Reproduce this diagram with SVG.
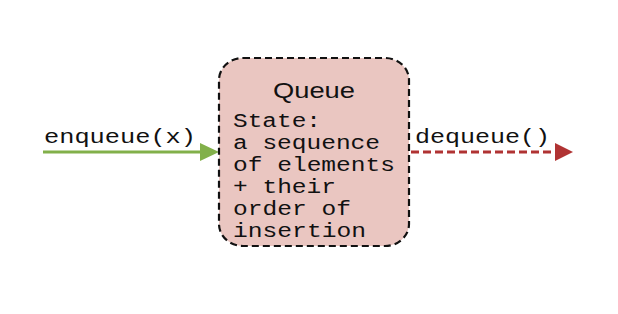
<svg xmlns="http://www.w3.org/2000/svg" width="618" height="314" viewBox="0 0 618 314">
  <style>
    .mono { font-family: "Liberation Mono", "Courier New", monospace; font-size: 20px; fill: #111; }
    .title { font-family: "Liberation Sans", Arial, sans-serif; font-size: 22px; fill: #111; }
    .box { fill: #eac6c1; stroke: #111; stroke-width: 2.2; stroke-dasharray: 7 4; }
  </style>
  <rect width="618" height="314" fill="#ffffff"/>
  <g id="connectors">
    <g id="enqueue">
      <line x1="43" y1="152" x2="202" y2="152" stroke="#82b04a" stroke-width="3.2"/>
      <polygon points="200,143 219,152 200,161" fill="#82b04a"/>
      <text class="mono" x="44" y="143" textLength="152" lengthAdjust="spacingAndGlyphs">enqueue(x)</text>
    </g>
    <g id="dequeue">
      <line x1="411" y1="152" x2="556" y2="152" stroke="#b03333" stroke-width="3.2" stroke-dasharray="8 4"/>
      <polygon points="555,143 573,152 555,161" fill="#b03333"/>
      <text class="mono" x="415" y="143" textLength="135" lengthAdjust="spacingAndGlyphs">dequeue()</text>
    </g>
  </g>
  <g id="queue">
    <rect class="box" x="219" y="58" width="190" height="188" rx="24" ry="22"/>
    <text class="title" x="273" y="98" textLength="82" lengthAdjust="spacingAndGlyphs">Queue</text>
    <text class="mono" x="233" y="127" textLength="88" lengthAdjust="spacingAndGlyphs">State:</text>
    <text class="mono" x="233" y="149" textLength="147" lengthAdjust="spacingAndGlyphs">a sequence</text>
    <text class="mono" x="233" y="171" textLength="162" lengthAdjust="spacingAndGlyphs">of elements</text>
    <text class="mono" x="233" y="193" textLength="103" lengthAdjust="spacingAndGlyphs">+ their</text>
    <text class="mono" x="233" y="215" textLength="118" lengthAdjust="spacingAndGlyphs">order of</text>
    <text class="mono" x="233" y="237" textLength="133" lengthAdjust="spacingAndGlyphs">insertion</text>
  </g>
</svg>
